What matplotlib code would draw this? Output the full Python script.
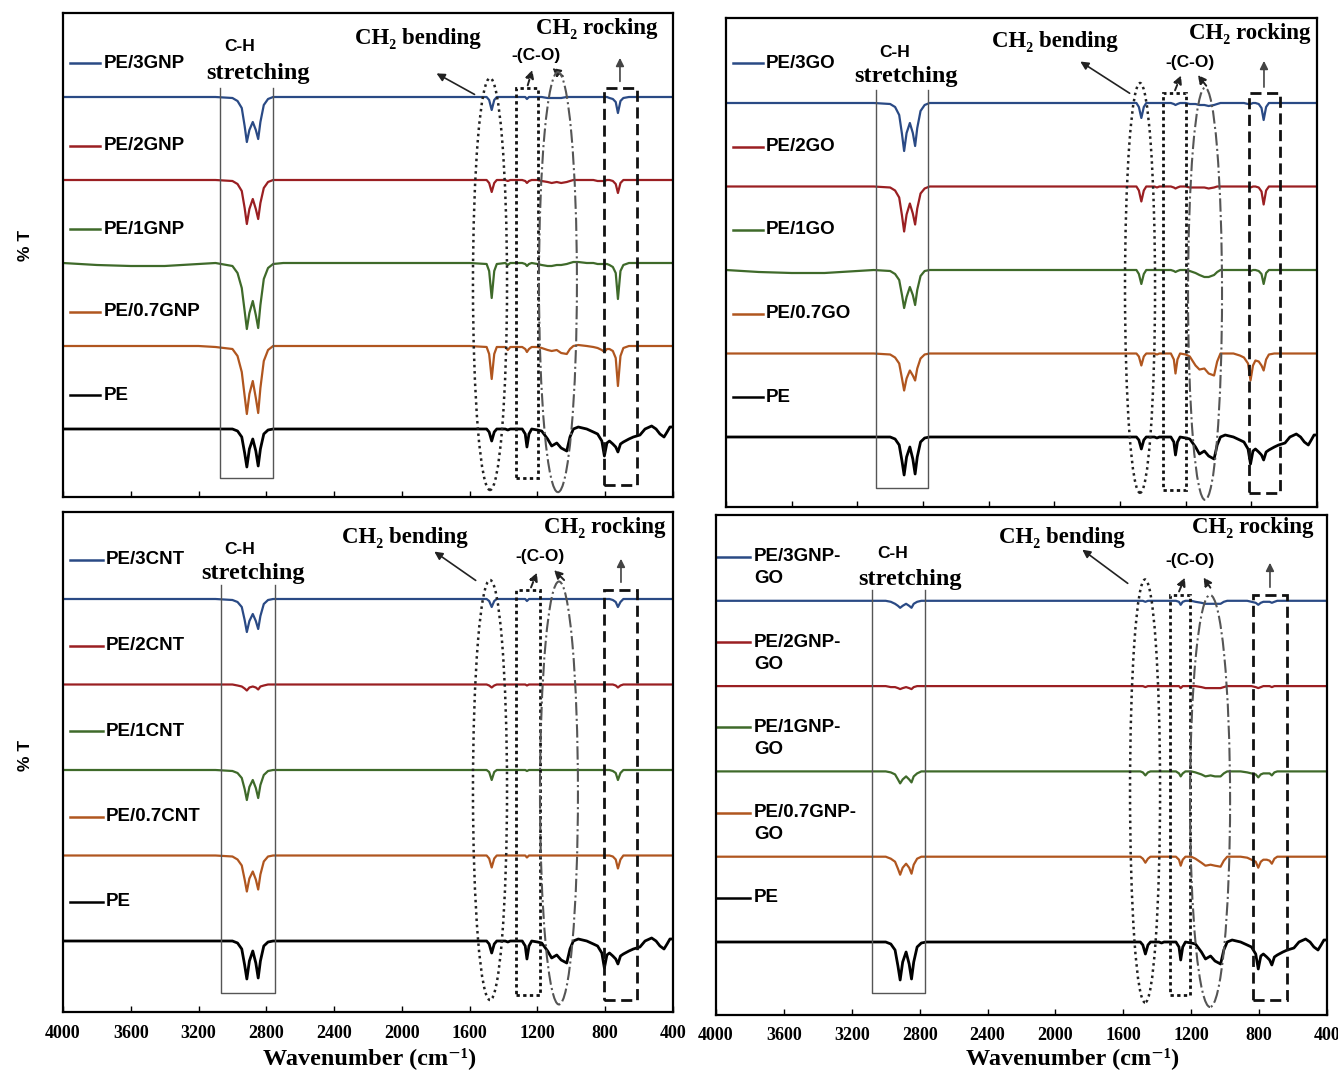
import matplotlib
matplotlib.use("Agg")
import matplotlib.pyplot as plt
from matplotlib.patches import Ellipse, Rectangle

W, H = 1338, 1073
fig = plt.figure(figsize=(W / 100, H / 100), dpi=100)

SANS = ["Liberation Sans", "DejaVu Sans"]
SERIF = ["Liberation Serif", "DejaVu Serif"]

# ---------------- data (wavenumber grid, cm-1) ----------------
WN = [4000, 3800, 3600, 3400, 3200,
      3100, 3000, 2970, 2945, 2928, 2915, 2900, 2880, 2862, 2848, 2835, 2815, 2790, 2760,
      2700, 2400, 2000, 1800, 1600,
      1500, 1485, 1470, 1455, 1440,
      1390, 1375, 1360,
      1290, 1272, 1262, 1250, 1234,
      1200, 1175, 1140, 1116, 1086, 1060, 1027, 1008, 988, 959,
      909, 870, 845, 820, 805, 790, 775, 755, 738, 725, 710, 693,
      660, 634, 595, 565, 526, 500, 477, 453, 435, 418, 400]

# transmittance change relative to each trace's baseline (arbitrary %T units)
PE = [0, 0, 0, 0, 0,
      0, 0, -2, -8, -24, -38, -20, -10, -22, -37, -20, -5, -1, 0,
      0, 0, 0, 0, 0,
      0, -3, -12, -3, 0,
      0, -1, 0,
      0, -5, -18, -5, 0,
      -1, -2, -10, -17, -14, -19, -22, -8, 0, 2,
      0, -3, -5, -12, -27, -14, -12, -15, -18, -23, -15, -13,
      -10, -8, -6, 0, 3, 0, -5, -8, -3, 2, 2]

GNP3 = [0, 0, 0, 0, 0,
        0, -1, -4, -11, -29, -45, -33, -25, -33, -42, -25, -8, -2, 0,
        0, 0, 0, 0, 0,
        0, -3, -13, -3, 0,
        0, 0, 0,
        0, 0, -2, 0, 0,
        0, 0, -1, -1, -1, -1, 0, 0, 0, 0,
        0, 0, 0, 0, 0, 0, -1, -2, -5, -16, -4, -1,
        0, 0, 0, 0, 0, 0, 0, 0, 0, 0, 0]
GNP2 = [0, 0, 0, 0, 0,
        0, -1, -4, -11, -28, -44, -29, -19, -29, -39, -23, -8, -2, 0,
        0, 0, 0, 0, 0,
        0, -3, -12, -3, 0,
        0, -1, 0,
        0, -1, -3, -1, 0,
        0, -1, -2, -3, -2, -3, -2, -1, 0, 0,
        0, 0, -1, -1, -1, 0, 0, -1, -4, -13, -3, 0,
        0, 0, 0, 0, 0, 0, 0, 0, 0, 0, 0]
GNP1 = [0, -2, -3, -3, -1,
        0, -3, -10, -25, -48, -66, -50, -38, -52, -65, -42, -16, -5, -1,
        0, 0, 0, 0, 0,
        -1, -8, -35, -8, -1,
        0, -2, 0,
        0, -1, -3, -1, 0,
        -1, -2, -3, -3, -2, -2, -1, 0, 1, 1,
        0, 0, -1, -1, -1, -1, -2, -4, -10, -36, -8, -2,
        0, 0, 0, 0, 0, 0, 0, 0, 0, 0, 0]
GNP07 = [0, 0, 0, 0, 0,
         -1, -3, -10, -26, -50, -68, -48, -35, -52, -67, -42, -15, -4, 0,
         0, 0, 0, 0, 0,
         -1, -8, -33, -8, -1,
         -1, -4, -1,
         -1, -3, -6, -3, -1,
         -1, -2, -4, -5, -4, -7, -8, -3, 0, 1,
         0, -1, -2, -4, -6, -3, -3, -5, -12, -40, -10, -2,
         0, 0, 0, 0, 0, 0, 0, 0, 0, 0, 0]

GO3 = [0, 0, 0, 0, 0,
       0, -1, -4, -12, -31, -48, -30, -20, -30, -43, -25, -8, -2, 0,
       0, 0, 0, 0, 0,
       0, -4, -15, -4, 0,
       0, 0, 0,
       0, -1, -2, -1, 0,
       0, -1, -1, -2, -2, -3, -2, -1, 0, 0,
       0, 0, 0, -1, -1, 0, 0, -1, -5, -17, -4, 0,
       0, 0, 0, 0, 0, 0, 0, 0, 0, 0, 0]
GO2 = [0, 0, 0, 0, 0,
       0, -1, -4, -11, -29, -45, -28, -17, -27, -38, -22, -7, -2, 0,
       0, 0, 0, 0, 0,
       0, -4, -15, -4, 0,
       0, -1, 0,
       0, -1, -2, -1, 0,
       0, -1, -1, -1, -1, -2, -1, 0, 0, 0,
       0, 0, 0, 0, -1, 0, 0, -1, -5, -18, -4, 0,
       0, 0, 0, 0, 0, 0, 0, 0, 0, 0, 0]
GO1 = [0, -2, -3, -3, -1,
       0, -1, -4, -10, -25, -38, -27, -17, -25, -35, -20, -6, -1, 0,
       0, 0, 0, 0, 0,
       0, -4, -14, -4, 0,
       0, 0, 0,
       0, -1, -2, -1, 0,
       0, -1, -3, -5, -7, -7, -5, -2, 0, 0,
       0, 0, 0, 0, -1, 0, 0, -1, -4, -14, -3, 0,
       0, 0, 0, 0, 0, 0, 0, 0, 0, 0, 0]
GO07 = [0, 0, 0, 0, 0,
        0, -1, -4, -10, -25, -37, -25, -17, -22, -27, -15, -5, -1, 0,
        0, 0, 0, 0, 0,
        0, -3, -12, -3, 0,
        0, -1, 0,
        0, -6, -20, -6, 0,
        -1, -3, -12, -16, -15, -20, -22, -8, 0, 0,
        0, -2, -4, -10, -27, -12, -7, -8, -12, -17, -6, -1,
        0, 0, 0, 0, 0, 0, 0, 0, 0, 0, 0]

CNT3 = [0, 0, 0, 0, 0,
        0, -1, -3, -8, -21, -33, -22, -15, -22, -30, -17, -5, -1, 0,
        0, 0, 0, 0, 0,
        0, -2, -8, -2, 0,
        0, 0, 0,
        0, 0, -2, 0, 0,
        0, 0, 0, 0, 0, 0, 0, 0, 0, 0,
        0, 0, 0, 0, 0, 0, 0, -1, -3, -8, -3, 0,
        0, 0, 0, 0, 0, 0, 0, 0, 0, 0, 0]
CNT2 = [0, 0, 0, 0, 0,
        0, 0, -1, -2, -4, -6, -3, -2, -3, -5, -2, -1, 0, 0,
        0, 0, 0, 0, 0,
        0, -1, -3, -1, 0,
        0, 0, 0,
        0, 0, -1, 0, 0,
        0, 0, 0, 0, 0, 0, 0, 0, 0, 0,
        0, 0, 0, 0, 0, 0, 0, 0, -1, -3, -1, 0,
        0, 0, 0, 0, 0, 0, 0, 0, 0, 0, 0]
CNT1 = [0, 0, 0, 0, 0,
        0, -1, -3, -8, -19, -30, -17, -10, -18, -28, -15, -5, -1, 0,
        0, 0, 0, 0, 0,
        0, -2, -10, -2, 0,
        0, 0, 0,
        0, 0, -1, 0, 0,
        0, 0, 0, 0, 0, 0, 0, 0, 0, 0,
        0, 0, 0, 0, 0, 0, 0, -1, -3, -10, -3, 0,
        0, 0, 0, 0, 0, 0, 0, 0, 0, 0, 0]
CNT07 = [0, 0, 0, 0, 0,
         0, -1, -4, -10, -24, -36, -23, -16, -24, -34, -19, -6, -1, 0,
         0, 0, 0, 0, 0,
         0, -3, -12, -3, 0,
         0, 0, 0,
         0, 0, -2, 0, 0,
         0, 0, 0, 0, 0, 0, 0, 0, 0, 0,
         0, 0, 0, 0, 0, 0, 0, -1, -4, -13, -4, 0,
         0, 0, 0, 0, 0, 0, 0, 0, 0, 0, 0]

HYB3 = [0, 0, 0, 0, 0,
        0, 0, -1, -3, -5, -7, -5, -3, -5, -7, -3, -1, 0, 0,
        0, 0, 0, 0, 0,
        0, 0, -1, 0, 0,
        0, 0, 0,
        0, -1, -4, -1, 0,
        0, -1, -2, -3, -3, -3, -3, -1, 0, 0,
        0, 0, -1, -2, -4, -2, -1, -1, -1, -2, -1, 0,
        0, 0, 0, 0, 0, 0, 0, 0, 0, 0, 0]
HYB2 = [0, 0, 0, 0, 0,
        0, 0, -1, -1, -2, -3, -2, -1, -2, -3, -1, 0, 0, 0,
        0, 0, 0, 0, 0,
        0, 0, -1, 0, 0,
        0, 0, 0,
        0, 0, -2, 0, 0,
        0, 0, -1, -2, -2, -2, -2, -1, 0, 0,
        0, 0, 0, -1, -2, -1, 0, 0, 0, -1, 0, 0,
        0, 0, 0, 0, 0, 0, 0, 0, 0, 0, 0]
HYB1 = [0, 0, 0, 0, 0,
        0, 0, -1, -3, -8, -12, -8, -5, -8, -11, -5, -2, 0, 0,
        0, 0, 0, 0, 0,
        0, -1, -4, -1, 0,
        0, 0, 0,
        0, -2, -5, -2, 0,
        0, -1, -3, -5, -4, -5, -5, -2, 0, 0,
        0, -1, -2, -3, -6, -3, -2, -2, -2, -4, -1, 0,
        0, 0, 0, 0, 0, 0, 0, 0, 0, 0, 0]
HYB07 = [0, 0, 0, 0, 0,
         0, 0, -2, -5, -12, -18, -11, -7, -11, -17, -8, -2, 0, 0,
         0, 0, 0, 0, 0,
         0, -2, -6, -2, 0,
         0, 0, 0,
         0, -3, -9, -3, 0,
         0, -2, -6, -9, -8, -9, -10, -4, 0, 0,
         0, -1, -3, -5, -11, -5, -3, -3, -4, -7, -2, 0,
         0, 0, 0, 0, 0, 0, 0, 0, 0, 0, 0]

LABELS_GNP = ["PE/3GNP", "PE/2GNP", "PE/1GNP", "PE/0.7GNP", "PE"]
LABELS_GO = ["PE/3GO", "PE/2GO", "PE/1GO", "PE/0.7GO", "PE"]
LABELS_CNT = ["PE/3CNT", "PE/2CNT", "PE/1CNT", "PE/0.7CNT", "PE"]
LABELS_HYB = ["PE/3GNP-\nGO", "PE/2GNP-\nGO", "PE/1GNP-\nGO", "PE/0.7GNP-\nGO", "PE"]

XTICKS = [4000, 3600, 3200, 2800, 2400, 2000, 1600, 1200, 800, 400]

COLORS = ["#2a4a85", "#9a1f22", "#3f6a2a", "#b0561f", "#000000"]
LWS = [1.6, 1.6, 1.6, 1.6, 2.0]

# ---------------- layout / annotations ----------------
panels = [
    dict(box=(63, 13, 673, 497), base=68, step=83, lab_dy=34,
         series=[GNP3, GNP2, GNP1, GNP07, PE], labels=LABELS_GNP,
         leg=(3960, 3780, 3758), ticklabels=False,
         ch_txt=(2955, 0.930), st_txt=(2849, 0.876), ch_box=(3073, 2761, 0.845, 0.039),
         bend_txt=(1905, 0.948), bend_arr=((1557, 0.829), (1810, 0.878)),
         bend_ell=(1480, 0.440, 201, 0.851),
         co_txt=(1208, 0.913), co_box=(1326, 1197, 0.845, 0.039),
         co_arr=[((1262, 0.845), (1226, 0.888)), ((1037, 0.866), (1126, 0.890))],
         dd_ell=(1079, 0.444, 224, 0.868),
         rock_txt=(848, 0.969), rock_arr=((713, 0.853), (713, 0.913)),
         rock_box=(807, 612, 0.845, 0.025)),
    dict(box=(726, 18, 1317, 507), base=70, step=83.5, lab_dy=40,
         series=[GO3, GO2, GO1, GO07, PE], labels=LABELS_GO,
         leg=(3957, 3775, 3756), ticklabels=False,
         ch_txt=(2971, 0.930), st_txt=(2904, 0.881), ch_box=(3086, 2770, 0.853, 0.039),
         bend_txt=(1996, 0.951), bend_arr=((1527, 0.843), (1856, 0.914)),
         bend_ell=(1478, 0.448, 183, 0.838),
         co_txt=(1174, 0.910), co_box=(1338, 1198, 0.847, 0.035),
         co_arr=[((1271, 0.847), (1222, 0.888)), ((1064, 0.857), (1137, 0.888))],
         dd_ell=(1082, 0.436, 207, 0.843),
         rock_txt=(808, 0.969), rock_arr=((723, 0.853), (723, 0.918)),
         rock_box=(814, 625, 0.847, 0.029)),
    dict(box=(63, 512, 673, 1012), base=71, step=85.5, lab_dy=39,
         series=[CNT3, CNT2, CNT1, CNT07, PE], labels=LABELS_CNT,
         leg=(3959, 3764, 3746), ticklabels=True,
         ch_txt=(2955, 0.926), st_txt=(2879, 0.878), ch_box=(3067, 2749, 0.854, 0.038),
         bend_txt=(1982, 0.948), bend_arr=((1551, 0.860), (1822, 0.924)),
         bend_ell=(1480, 0.444, 201, 0.840),
         co_txt=(1185, 0.910), co_box=(1326, 1185, 0.844, 0.034),
         co_arr=[((1244, 0.844), (1197, 0.884)), ((1031, 0.860), (1114, 0.888))],
         dd_ell=(1073, 0.438, 224, 0.846),
         rock_txt=(801, 0.970), rock_arr=((707, 0.854), (707, 0.912)),
         rock_box=(807, 612, 0.844, 0.024)),
    dict(box=(716, 515, 1327, 1015), base=73, step=85.3, lab_dy=44,
         series=[HYB3, HYB2, HYB1, HYB07, PE], labels=LABELS_HYB,
         leg=(3995, 3800, 3776), ticklabels=True,
         ch_txt=(2957, 0.924), st_txt=(2857, 0.870), ch_box=(3081, 2769, 0.850, 0.044),
         bend_txt=(1961, 0.954), bend_arr=((1561, 0.860), (1855, 0.934)),
         bend_ell=(1472, 0.448, 177, 0.846),
         co_txt=(1207, 0.910), co_box=(1325, 1207, 0.840, 0.040),
         co_arr=[((1278, 0.842), (1231, 0.880)), ((1078, 0.850), (1137, 0.880))],
         dd_ell=(1089, 0.428, 236, 0.824),
         rock_txt=(836, 0.976), rock_arr=((736, 0.850), (736, 0.910)),
         rock_box=(836, 636, 0.840, 0.030)),
]

for p in panels:
    x0, y0, x1, y1 = p["box"]
    ax = fig.add_axes([x0 / W, 1 - y1 / H, (x1 - x0) / W, (y1 - y0) / H])
    ax.set_xlim(4000, 400)
    ax.set_ylim(0, y1 - y0)
    ax.set_yticks([])
    ax.set_xticks(XTICKS)
    ax.tick_params(axis="x", direction="in", length=4, width=1, pad=9)
    if p["ticklabels"]:
        ax.set_xticklabels([str(t) for t in XTICKS])
        for lab in ax.get_xticklabels():
            lab.set_fontfamily(SERIF)
            lab.set_fontweight("bold")
            lab.set_fontsize(13)
    else:
        ax.set_xticklabels([])
    for s in ax.spines.values():
        s.set_linewidth(1.6)

    xt = ax.get_xaxis_transform()
    n = len(p["series"])
    for i, (vals, lab) in enumerate(zip(p["series"], p["labels"])):
        off = p["base"] + p["step"] * (n - 1 - i)
        ax.plot(WN, [off + v for v in vals], color=COLORS[i], lw=LWS[i], zorder=2,
                solid_joinstyle="round")
        ly = off + p["lab_dy"]
        ax.plot([p["leg"][0], p["leg"][1]], [ly, ly], color=COLORS[i], lw=1.8, zorder=2)
        lines = lab.split("\n")
        ax.text(p["leg"][2], ly, lines[0], ha="left", va="center", fontsize=13.5,
                fontweight="bold", family=SANS)
        if len(lines) > 1:
            ax.text(p["leg"][2], ly - 22, lines[1], ha="left", va="center", fontsize=13.5,
                    fontweight="bold", family=SANS)

    # C-H stretching
    ax.text(*p["ch_txt"], "C-H", transform=xt, ha="center", va="center",
            fontsize=12.5, fontweight="bold", family=SANS)
    ax.text(*p["st_txt"], "stretching", transform=xt, ha="center", va="center",
            fontsize=17.5, fontweight="bold", family=SERIF)
    a, b, top, bot = p["ch_box"]
    ax.plot([a, a, b, b], [top, bot, bot, top], transform=xt, color="#555555", lw=1.0,
            zorder=3)

    # CH2 bending
    ax.text(*p["bend_txt"], "CH₂ bending", transform=xt, ha="center", va="center",
            fontsize=16.5, fontweight="bold", family=SERIF)
    ax.annotate("", xy=p["bend_arr"][1], xytext=p["bend_arr"][0], xycoords=xt,
                textcoords=xt,
                arrowprops=dict(arrowstyle="-|>", lw=1.2, color="#222222",
                                mutation_scale=12))
    cx, cy, w, h = p["bend_ell"]
    ax.add_patch(Ellipse((cx, cy), w, h, transform=xt, fill=False, ls=(0, (1, 1.5)),
                         lw=1.8, ec="#222222", zorder=3))

    # C-O
    ax.text(*p["co_txt"], "-(C-O)", transform=xt, ha="center", va="center",
            fontsize=12.5, fontweight="bold", family=SANS)
    a, b, top, bot = p["co_box"]
    ax.add_patch(Rectangle((a, bot), b - a, top - bot, transform=xt, fill=False,
                           ls=(0, (1.2, 1.2)), lw=2.0, ec="#111111", zorder=3))
    for tail, head in p["co_arr"]:
        ax.annotate("", xy=head, xytext=tail, xycoords=xt, textcoords=xt,
                    arrowprops=dict(arrowstyle="-|>", lw=1.4, color="#222222",
                                    linestyle=(0, (3, 2)), mutation_scale=12))
    cx, cy, w, h = p["dd_ell"]
    ax.add_patch(Ellipse((cx, cy), w, h, transform=xt, fill=False, ls="-.",
                         lw=1.5, ec="#555555", zorder=3))

    # CH2 rocking
    ax.text(*p["rock_txt"], "CH₂ rocking", transform=xt, ha="center", va="center",
            fontsize=16.5, fontweight="bold", family=SERIF)
    ax.annotate("", xy=p["rock_arr"][1], xytext=p["rock_arr"][0], xycoords=xt,
                textcoords=xt,
                arrowprops=dict(arrowstyle="-|>", lw=1.2, color="#444444",
                                mutation_scale=12))
    a, b, top, bot = p["rock_box"]
    ax.add_patch(Rectangle((a, bot), b - a, top - bot, transform=xt, fill=False,
                           ls=(0, (4, 2)), lw=2.0, ec="#111111", zorder=3))

# axis titles
for yc in (245, 755):
    fig.text(25 / W, 1 - yc / H, "% T", rotation=90, ha="center", va="center",
             fontsize=12.5, fontweight="bold", family=SANS)
for xc in (370, 1073):
    fig.text(xc / W, 1 - 1058 / H, "Wavenumber (cm⁻¹)", ha="center", va="center",
             fontsize=17.5, fontweight="bold", family=SERIF)

fig.savefig("out.png", dpi=100)
